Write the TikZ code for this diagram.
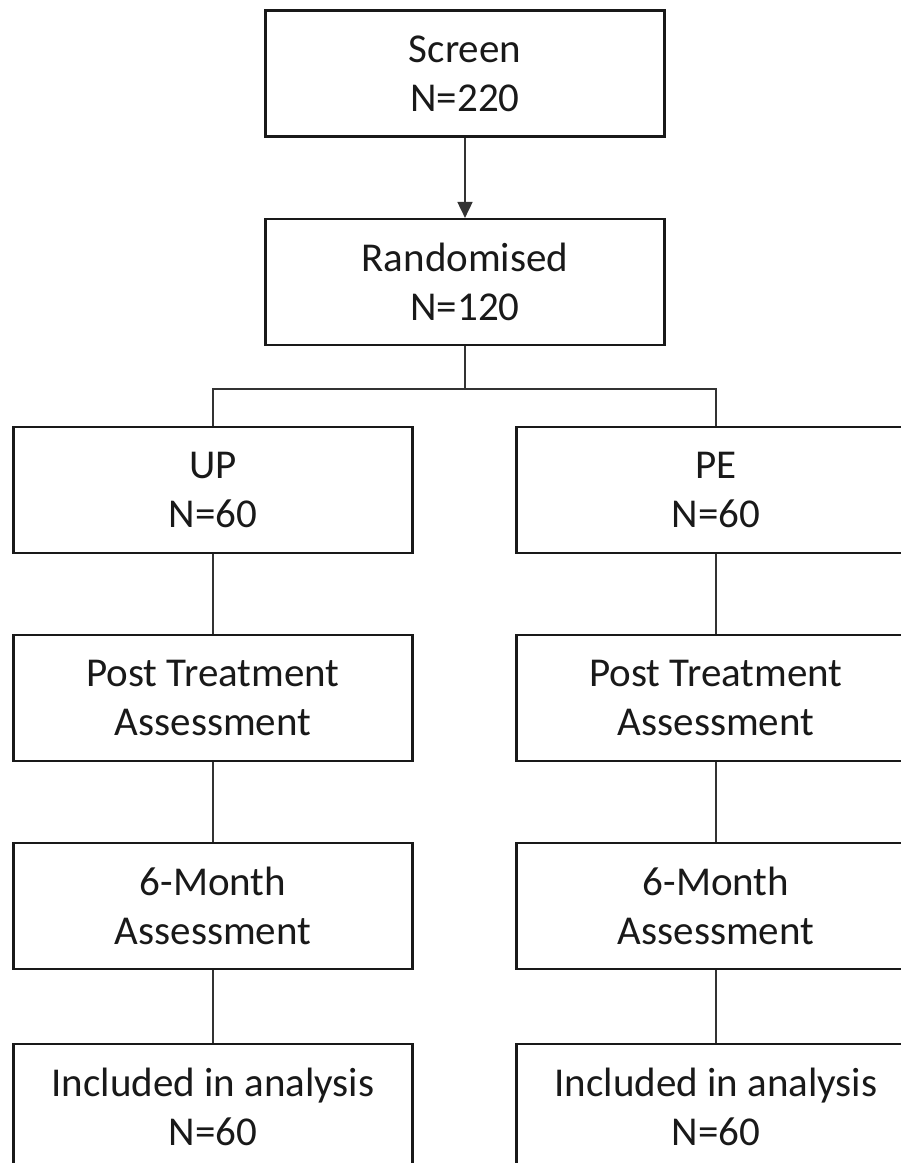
\documentclass[tikz,border=0pt]{standalone}
\usepackage{fontspec}
\setmainfont{Carlito}
\usetikzlibrary{arrows.meta}
\begin{document}
\begin{tikzpicture}[x=1pt,y=1pt,
  box/.style={draw=black!90, line width=2.2pt, rectangle, minimum width=399pt, minimum height=126pt,
    align=center, inner sep=0pt, text=black!90, font=\fontsize{41}{49}\selectfont},
  conn/.style={draw=black!80, line width=1.8pt}]
\useasboundingbox (0,0) rectangle (901,-1163);
\clip (0,0) rectangle (901,-1163);
\node[box] (screen) at (465,-73.5) {Screen\\N=220};
\node[box] (rand) at (465,-282) {Randomised\\N=120};
\node[box] (up) at (213,-490) {UP\\N=60};
\node[box] (pe) at (716,-490) {PE\\N=60};
\node[box] (upp) at (213,-698) {Post Treatment\\Assessment};
\node[box] (pep) at (716,-698) {Post Treatment\\Assessment};
\node[box] (up6) at (213,-906) {6-Month\\Assessment};
\node[box] (pe6) at (716,-906) {6-Month\\Assessment};
\node[box] (upi) at (213,-1107) {Included in analysis\\N=60};
\node[box] (pei) at (716,-1107) {Included in analysis\\N=60};
\coordinate (split) at (465,-389);
\draw[conn, -{Triangle[length=16pt,width=15pt]}] (screen) -- (rand);
\draw[conn] (rand) -- (split);
\draw[conn] (split) -| (up.north);
\draw[conn] (split) -| (pe.north);
\draw[conn] (up) -- (upp);
\draw[conn] (upp) -- (up6);
\draw[conn] (up6) -- (upi);
\draw[conn] (pe) -- (pep);
\draw[conn] (pep) -- (pe6);
\draw[conn] (pe6) -- (pei);
\end{tikzpicture}
\end{document}
